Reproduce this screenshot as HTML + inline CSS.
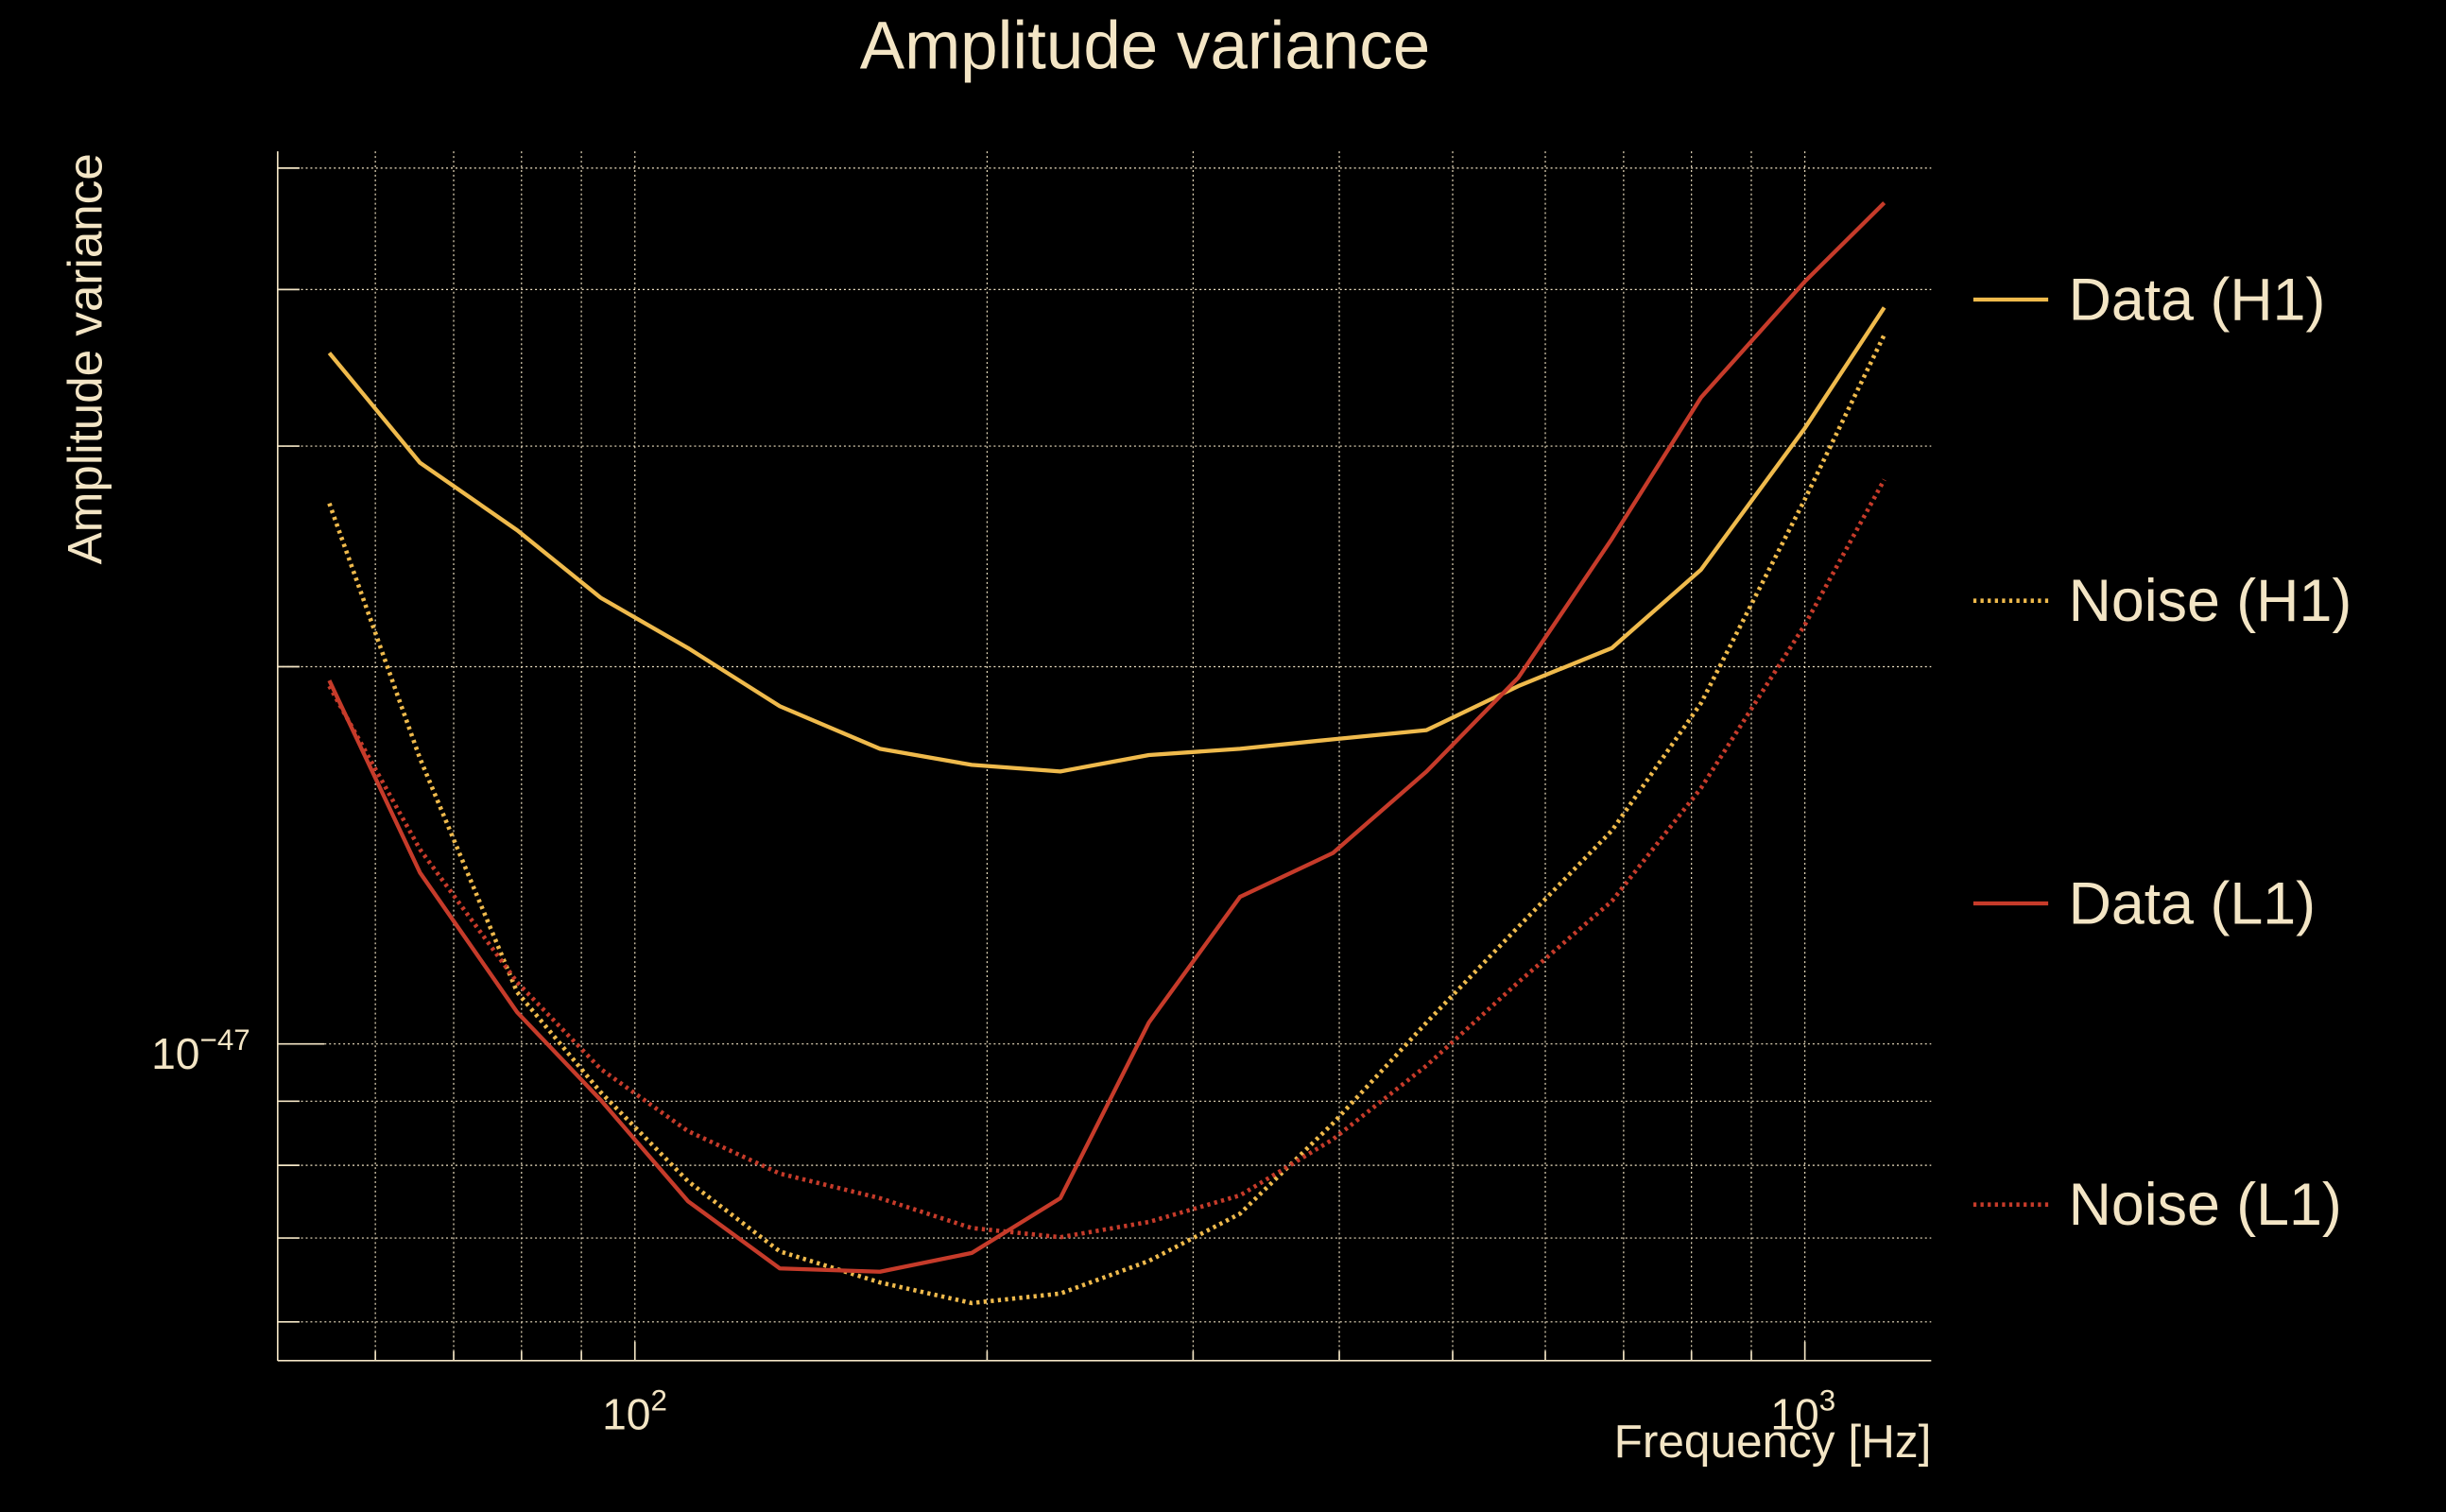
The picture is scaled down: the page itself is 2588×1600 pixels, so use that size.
<!DOCTYPE html>
<html><head><meta charset="utf-8"><style>
html,body{margin:0;padding:0;background:#000;}
svg{display:block;}
text{font-family:"Liberation Sans","DejaVu Sans",sans-serif;fill:#f3e5c5;}
</style></head><body>
<svg id="chart" width="2588" height="1600" viewBox="0 0 1568 969" preserveAspectRatio="none" xmlns="http://www.w3.org/2000/svg">
<rect x="0" y="0" width="1568" height="969" fill="#000"/>
<text x="734" y="44" font-size="43" text-anchor="middle">Amplitude variance</text>
<text transform="translate(65,230) rotate(-90)" font-size="31" text-anchor="middle">Amplitude variance</text>
<text x="1238" y="934" font-size="30" text-anchor="end">Frequency [Hz]</text>
<g id="grid"></g>
<g id="series"></g>
<g id="legend"></g>
</svg>
<script>
const freqs = [54.8,65.5,79.3,93.5,111,133,162,194,231,275,329,395,475,569,684,815,1000,1169];
const dataH1 = [35.6,29.1,25.7,22.7,20.7,18.6,17.2,16.7,16.5,17.0,17.2,17.5,17.8,19.3,20.7,23.9,31.0,38.7];
const noiseH1 = [27.0,16.9,11.0,9.15,7.77,6.83,6.45,6.21,6.32,6.71,7.32,8.64,10.4,12.4,14.8,18.7,27.2,36.8];
const dataL1 = [19.5,13.7,10.6,9.02,7.49,6.62,6.58,6.81,7.53,10.4,13.1,14.2,16.5,19.6,25.3,32.8,40.6,46.9];
const noiseL1 = [19.3,14.3,11.2,9.55,8.52,7.88,7.53,7.13,7.01,7.21,7.57,8.39,9.61,11.2,13.0,16.0,21.6,28.2];
const seriesNames = ["Data (H1)","Noise (H1)","Data (L1)","Noise (L1)"];
const xGridVals = [60,70,80,90,100,200,300,400,500,600,700,800,900,1000];
const yGridVals = [6,7,8,9,10,20,30,40,50];

const NS="http://www.w3.org/2000/svg";
const L=178,R=1238,T=97,B=872;
function xs(f){return 407+(Math.log10(f)-2)*750;}
function ys(v){return 669-(Math.log10(v)-1)*803;}
function mk(tag,attrs,parent){const e=document.createElementNS(NS,tag);for(const k in attrs)e.setAttribute(k,attrs[k]);parent.appendChild(e);return e;}
const grid=document.getElementById('grid');
const cream="#f3e5c5";
xGridVals.forEach(f=>{
  const l=mk('line',{x1:xs(f),x2:xs(f),y1:T,y2:B,stroke:cream,'stroke-width':0.7,'stroke-dasharray':'1.2,1.8'},grid);
  
  
  const t=mk('line',{x1:xs(f),x2:xs(f),y1:B,y2:B-(f===100||f===1000?12:6),stroke:cream,'stroke-width':1},grid);
  
  
});
yGridVals.forEach(v=>{
  const l=mk('line',{x1:L,x2:R,y1:ys(v),y2:ys(v),stroke:cream,'stroke-width':0.7,'stroke-dasharray':'1.2,1.8'},grid);
  
  
  const t=mk('line',{x1:L,x2:L+(v===10?30:14),y1:ys(v),y2:ys(v),stroke:cream,'stroke-width':1},grid);
  
  
});
const ax=mk('line',{x1:L,x2:L,y1:T,y2:B,stroke:cream,'stroke-width':1},grid);


const bx=mk('line',{x1:L,x2:R,y1:B,y2:B,stroke:cream,'stroke-width':1},grid);


function lbl(x,y,base,exp,name,anchor){
  const t=mk('text',{x:x,y:y,'font-size':28,'text-anchor':anchor},grid);
  
  
  t.innerHTML=base+'<tspan dy="-12" font-size="19">'+exp+'</tspan>';
}
lbl(xs(100)-21,916,'10','2','x-tick-label-100','start');
lbl(xs(1000)-22,916,'10','3','x-tick-label-1000','start');
lbl(97,685,'10','\u221247','y-tick-label','start');

const yellow="#efba4c", red="#c63b2a";
const defs=[[dataH1,yellow,null],[noiseH1,yellow,'2,2.6'],[dataL1,red,null],[noiseL1,red,'2,2.6']];
const sg=document.getElementById('series'), lg=document.getElementById('legend');
const legY=[192,385,579,772];
defs.forEach((d,i)=>{
  const pts=freqs.map((f,j)=>xs(f).toFixed(1)+','+ys(d[0][j]).toFixed(1)).join(' ');
  const a={points:pts,fill:'none',stroke:d[1],'stroke-width':2.6,'stroke-linejoin':'round'};
  if(d[2]){a['stroke-dasharray']=d[2];a['stroke-width']=2.8;}
  const p=mk('polyline',a,sg);
  
  
  const la={x1:1265,x2:1313,y1:legY[i],y2:legY[i],stroke:d[1],'stroke-width':2.6};
  if(d[2]){la['stroke-dasharray']=d[2];la['stroke-width']=2.8;}
  const ll=mk('line',la,lg);
  
  
  const t=mk('text',{x:1326,y:legY[i]+13,'font-size':38},lg);
  t.textContent=seriesNames[i];
  
  
});
</script>
</body></html>
